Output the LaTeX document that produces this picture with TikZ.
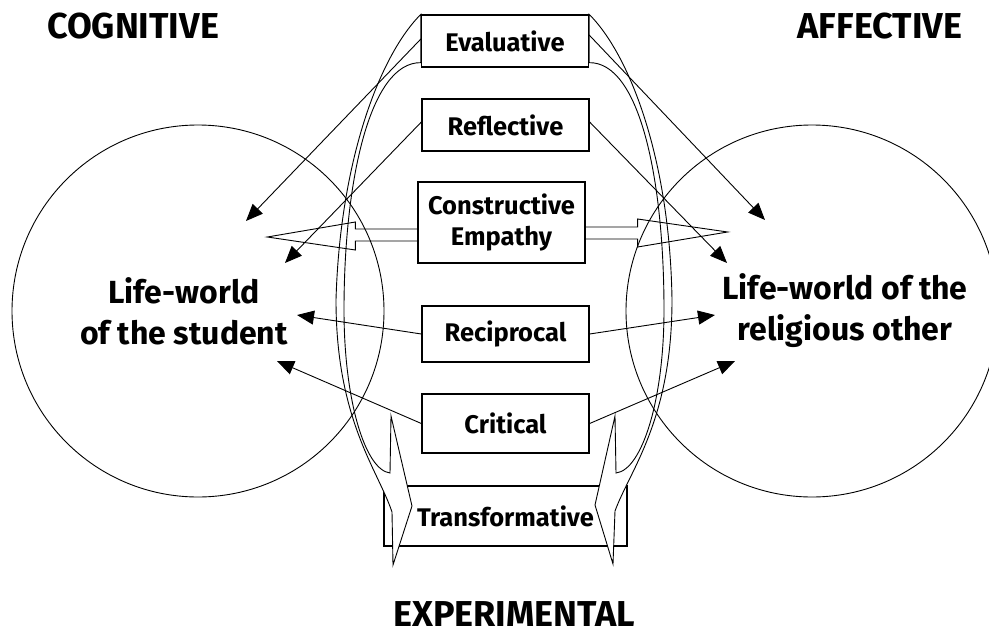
\documentclass[tikz,border=0pt]{standalone}
\usepackage{fontspec}
\setmainfont{Fira Sans}
\usetikzlibrary{arrows.meta}

\begin{document}
\begin{tikzpicture}[x=1pt,y=-1pt,line width=0.9pt,
    box/.style={draw,line width=1.3pt,fill=white,minimum width=167pt,minimum height=52pt,
      inner sep=0pt,align=center,font=\fontsize{25.5}{31}\selectfont\bfseries},
    world/.style={align=center,inner sep=0pt,font=\fontsize{32}{41}\selectfont\bfseries},
    head/.style={inner sep=0pt,font=\fontsize{36}{40}\selectfont\bfseries},
    arr/.style={-{Triangle[length=17pt,width=14pt]}},
    band/.style={draw,fill=white}]
  \useasboundingbox (0,0) rectangle (989,637);
  % the six kinds of learning
  \node[box,minimum width=243pt,minimum height=60pt] (trans) at (505.5,516) {Transformative};
  \node[box] (eval) at (505,41) {Evaluative};
  \node[box] (refl) at (505.5,125) {Reflective};
  \node[box,minimum height=81pt] (cons) at (501.5,222.5) {Constructive\\Empathy};
  \node[box,minimum height=56pt] (reci) at (505.5,334) {Reciprocal};
  \node[box,minimum height=59pt] (crit) at (505.5,423.5) {Critical};
  % the loop round the middle
  \draw[band] (eval.north west) .. controls (380,55) and (340,160) .. (336,300)
    .. controls (336,420) and (378,470) .. (392,512) -- (393,565) -- (412,506)
    -- (391,416) -- (390,473) .. controls (365,470) and (344,400) .. (344,310)
    .. controls (344,180) and (370,62) .. ([yshift=5pt]eval.south west) -- cycle;
  \draw[band] (eval.north east) .. controls (630,55) and (670,160) .. (672,300)
    .. controls (672,420) and (630,470) .. (615,511) -- (613,564) -- (595,505)
    -- (615,416) -- (616,473) .. controls (642,470) and (664,400) .. (664,310)
    .. controls (664,180) and (640,62) .. ([yshift=5pt]eval.south east) -- cycle;
  % the two life-worlds
  \draw (198,311) circle[radius=186pt];
  \draw (812,311) circle[radius=186pt];
  \node[world] (student) at (184,311) {Life-world\\of the student};
  \node[world] (other) at (845,311) {Life-world of the\\religious other};
  \node[head] (cog) at (133,26) {COGNITIVE};
  \node[head] (aff) at (880,26) {AFFECTIVE};
  \node[head] (exp) at (514,614) {EXPERIMENTAL};
  % arrows into the circles
  \coordinate (sEval) at (246,221);
  \coordinate (oEval) at (765,220);
  \coordinate (sRefl) at (285,263);
  \coordinate (oRefl) at (727,263);
  \coordinate (sReci) at (297,315);
  \coordinate (oReci) at (715,315);
  \coordinate (sCrit) at (277,361);
  \coordinate (oCrit) at (735,361);
  \draw[arr] ([yshift=2pt]eval.west) -- (sEval);
  \draw[arr] ([yshift=6pt]eval.east) -- (oEval);
  \draw[arr] ([yshift=3pt]refl.west) -- (sRefl);
  \draw[arr] ([yshift=3pt]refl.east) -- (oRefl);
  \draw[arr] (reci.west) -- (sReci);
  \draw[arr] (reci.east) -- (oReci);
  \draw[arr] (crit.west) -- (sCrit);
  \draw[arr] (crit.east) -- (oCrit);
  % hollow arrows of empathy
  \draw ([yshift=-6.5pt]cons.west) -- ++(-62,0) -- ++(0,-7) -- ++(-88,15)
    -- ++(88,13) -- ++(0,-9) -- ++(62,0);
  \draw ([yshift=-4.5pt]cons.east) -- ++(52,0) -- ++(0,-8) -- ++(90,13)
    -- ++(-90,15) -- ++(0,-8) -- ++(-52,0);
\end{tikzpicture}
\end{document}
